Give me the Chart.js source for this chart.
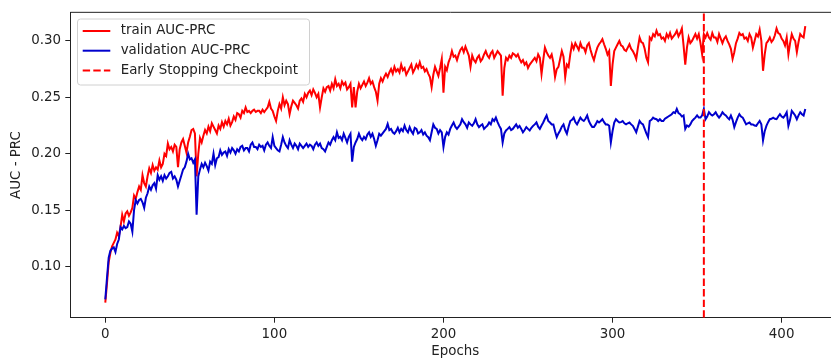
<!DOCTYPE html>
<html>
<head>
<meta charset="utf-8">
<script src="https://cdn.jsdelivr.net/npm/chart.js@4/dist/chart.umd.min.js"></script>
<style>
  html, body { margin: 0; padding: 0; background: #fff; overflow: hidden; }
  canvas { display: block; }
</style>
</head>
<body>
<canvas id="chart" width="831" height="358"></canvas>
<script>
// AUC-PRC per epoch
const trainAUC = [
  0.068, 0.085, 0.104, 0.112, 0.118, 0.121, 0.124, 0.130, 0.127, 0.135,
  0.146, 0.140, 0.147, 0.149, 0.145, 0.148, 0.152, 0.163, 0.160, 0.166,
  0.171, 0.168, 0.181, 0.174, 0.171, 0.180, 0.187, 0.183, 0.190, 0.185,
  0.188, 0.186, 0.194, 0.188, 0.191, 0.200, 0.198, 0.209, 0.204, 0.206,
  0.202, 0.208, 0.206, 0.188, 0.204, 0.210, 0.213, 0.207, 0.201, 0.210,
  0.215, 0.221, 0.222, 0.218, 0.180, 0.200, 0.214, 0.210, 0.216, 0.221,
  0.218, 0.224, 0.220, 0.227, 0.224, 0.221, 0.218, 0.225, 0.222, 0.228,
  0.224, 0.229, 0.226, 0.231, 0.225, 0.228, 0.233, 0.230, 0.236, 0.235,
  0.232, 0.238, 0.236, 0.241, 0.237, 0.238, 0.236, 0.238, 0.239, 0.237,
  0.238, 0.238, 0.236, 0.239, 0.237, 0.239, 0.241, 0.246, 0.240, 0.238,
  0.233, 0.229, 0.238, 0.244, 0.240, 0.250, 0.243, 0.247, 0.244, 0.235,
  0.242, 0.247, 0.245, 0.243, 0.240, 0.247, 0.249, 0.246, 0.253, 0.250,
  0.254, 0.256, 0.252, 0.257, 0.254, 0.250, 0.253, 0.241, 0.250, 0.258,
  0.255, 0.259, 0.260, 0.256, 0.262, 0.258, 0.266, 0.260, 0.262, 0.258,
  0.264, 0.261, 0.263, 0.257, 0.259, 0.262, 0.241, 0.259, 0.241, 0.255,
  0.262, 0.258, 0.261, 0.264, 0.260, 0.263, 0.267, 0.262, 0.264, 0.259,
  0.255, 0.247, 0.262, 0.267, 0.264, 0.268, 0.271, 0.268, 0.272, 0.275,
  0.271, 0.277, 0.273, 0.275, 0.272, 0.279, 0.274, 0.276, 0.270, 0.273,
  0.276, 0.279, 0.272, 0.275, 0.279, 0.276, 0.281, 0.276, 0.277, 0.273,
  0.275, 0.271, 0.268, 0.259, 0.270, 0.277, 0.273, 0.269, 0.276, 0.284,
  0.254, 0.277, 0.274, 0.281, 0.285, 0.291, 0.286, 0.287, 0.283, 0.288,
  0.292, 0.294, 0.290, 0.295, 0.291, 0.287, 0.277, 0.287, 0.283, 0.281,
  0.285, 0.287, 0.282, 0.284, 0.288, 0.291, 0.287, 0.285, 0.289, 0.291,
  0.285, 0.288, 0.291, 0.289, 0.287, 0.2515, 0.276, 0.285, 0.283, 0.287,
  0.285, 0.289, 0.288, 0.286, 0.288, 0.284, 0.281, 0.283, 0.279, 0.281,
  0.276, 0.279, 0.281, 0.283, 0.285, 0.282, 0.288, 0.285, 0.2706, 0.283,
  0.294, 0.290, 0.287, 0.285, 0.288, 0.281, 0.268, 0.275, 0.277, 0.284,
  0.291, 0.286, 0.268, 0.279, 0.277, 0.288, 0.297, 0.293, 0.298, 0.295,
  0.292, 0.298, 0.294, 0.294, 0.290, 0.296, 0.298, 0.292, 0.287, 0.283,
  0.289, 0.294, 0.297, 0.299, 0.3015, 0.297, 0.293, 0.288, 0.291, 0.260,
  0.279, 0.291, 0.294, 0.297, 0.300, 0.296, 0.295, 0.292, 0.291, 0.294,
  0.297, 0.293, 0.291, 0.288, 0.284, 0.294, 0.303, 0.299, 0.298, 0.293,
  0.285, 0.281, 0.303, 0.301, 0.306, 0.304, 0.309, 0.305, 0.306, 0.302,
  0.303, 0.300, 0.306, 0.303, 0.307, 0.302, 0.304, 0.306, 0.309, 0.304,
  0.307, 0.311, 0.296, 0.279, 0.294, 0.303, 0.298, 0.300, 0.303, 0.306,
  0.302, 0.306, 0.298, 0.288, 0.306, 0.303, 0.307, 0.303, 0.301, 0.307,
  0.303, 0.303, 0.299, 0.306, 0.302, 0.298, 0.302, 0.304, 0.300, 0.297,
  0.293, 0.284, 0.290, 0.298, 0.302, 0.307, 0.305, 0.306, 0.302, 0.303,
  0.300, 0.306, 0.303, 0.294, 0.300, 0.306, 0.304, 0.310, 0.300, 0.2735,
  0.288, 0.298, 0.300, 0.303, 0.299, 0.301, 0.305, 0.311, 0.307, 0.306,
  0.302, 0.300, 0.296, 0.303, 0.288, 0.298, 0.306, 0.302, 0.300, 0.290,
  0.299, 0.306, 0.304, 0.303, 0.313
];

const valAUC = [
  0.071, 0.090, 0.108, 0.114, 0.116, 0.117, 0.113, 0.120, 0.124, 0.135,
  0.133, 0.136, 0.134, 0.135, 0.140, 0.138, 0.131, 0.150, 0.159, 0.156,
  0.159, 0.160, 0.157, 0.152, 0.161, 0.165, 0.171, 0.168, 0.172, 0.174,
  0.169, 0.181, 0.177, 0.180, 0.176, 0.181, 0.178, 0.180, 0.183, 0.184,
  0.178, 0.180, 0.177, 0.171, 0.176, 0.181, 0.186, 0.188, 0.193, 0.200,
  0.195, 0.196, 0.192, 0.195, 0.146, 0.180, 0.186, 0.191, 0.188, 0.192,
  0.189, 0.185, 0.193, 0.191, 0.200, 0.190, 0.196, 0.197, 0.203, 0.199,
  0.201, 0.202, 0.198, 0.204, 0.201, 0.205, 0.203, 0.200, 0.204, 0.202,
  0.206, 0.207, 0.203, 0.205, 0.205, 0.202, 0.208, 0.210, 0.206, 0.206,
  0.204, 0.208, 0.206, 0.207, 0.203, 0.208, 0.210, 0.207, 0.205, 0.2147,
  0.207, 0.205, 0.203, 0.202, 0.208, 0.2147, 0.210, 0.207, 0.205, 0.212,
  0.208, 0.205, 0.209, 0.207, 0.204, 0.209, 0.207, 0.205, 0.207, 0.209,
  0.206, 0.208, 0.207, 0.204, 0.208, 0.210, 0.207, 0.209, 0.205, 0.204,
  0.202, 0.206, 0.210, 0.208, 0.212, 0.2147, 0.212, 0.219, 0.214, 0.215,
  0.212, 0.2177, 0.214, 0.210, 0.215, 0.2177, 0.193, 0.206, 0.210, 0.213,
  0.2177, 0.214, 0.212, 0.215, 0.213, 0.217, 0.219, 0.215, 0.2177, 0.213,
  0.207, 0.212, 0.2177, 0.216, 0.218, 0.220, 0.222, 0.2265, 0.221, 0.222,
  0.219, 0.2177, 0.220, 0.223, 0.219, 0.222, 0.220, 0.225, 0.221, 0.219,
  0.2236, 0.220, 0.2177, 0.223, 0.222, 0.218, 0.219, 0.221, 0.217, 0.219,
  0.216, 0.2147, 0.212, 0.219, 0.226, 0.223, 0.222, 0.218, 0.221, 0.219,
  0.206, 0.215, 0.219, 0.217, 0.222, 0.225, 0.2277, 0.224, 0.222, 0.224,
  0.226, 0.2306, 0.228, 0.226, 0.223, 0.2277, 0.226, 0.2247, 0.227, 0.2306,
  0.226, 0.2236, 0.225, 0.226, 0.222, 0.2236, 0.225, 0.2277, 0.226, 0.2306,
  0.229, 0.232, 0.228, 0.2247, 0.222, 0.210, 0.218, 0.2206, 0.222, 0.2236,
  0.221, 0.222, 0.224, 0.226, 0.223, 0.2247, 0.222, 0.219, 0.221, 0.2236,
  0.222, 0.2206, 0.223, 0.2247, 0.226, 0.2277, 0.224, 0.222, 0.225, 0.2277,
  0.231, 0.2339, 0.229, 0.2277, 0.226, 0.226, 0.220, 0.2147, 0.218, 0.2206,
  0.224, 0.226, 0.221, 0.2177, 0.224, 0.229, 0.230, 0.232, 0.228, 0.226,
  0.229, 0.232, 0.230, 0.229, 0.231, 0.2339, 0.229, 0.226, 0.2236, 0.2236,
  0.226, 0.229, 0.2277, 0.229, 0.2306, 0.228, 0.226, 0.226, 0.2247, 0.210,
  0.220, 0.2277, 0.2306, 0.229, 0.2277, 0.228, 0.229, 0.227, 0.226, 0.227,
  0.2277, 0.226, 0.2247, 0.222, 0.219, 0.224, 0.229, 0.227, 0.226, 0.222,
  0.218, 0.2147, 0.229, 0.230, 0.232, 0.231, 0.2306, 0.229, 0.2306, 0.229,
  0.229, 0.231, 0.232, 0.233, 0.2339, 0.235, 0.2368, 0.236, 0.2397, 0.236,
  0.235, 0.233, 0.2339, 0.222, 0.225, 0.224, 0.226, 0.229, 0.2306, 0.232,
  0.2339, 0.232, 0.232, 0.234, 0.2397, 0.2306, 0.233, 0.2368, 0.235, 0.2339,
  0.235, 0.2368, 0.234, 0.232, 0.234, 0.2368, 0.235, 0.2339, 0.232, 0.2306,
  0.2339, 0.230, 0.2236, 0.228, 0.232, 0.235, 0.233, 0.232, 0.229, 0.226,
  0.227, 0.2277, 0.226, 0.226, 0.225, 0.2247, 0.227, 0.229, 0.226, 0.2118,
  0.220, 0.2247, 0.228, 0.2306, 0.231, 0.232, 0.231, 0.2306, 0.233, 0.235,
  0.233, 0.232, 0.234, 0.2368, 0.2247, 0.230, 0.238, 0.236, 0.2339, 0.2306,
  0.234, 0.2368, 0.235, 0.2339, 0.2397
];

const checkpointEpoch = 354;
const xTicks = [0, 100, 200, 300, 400];
const yTicks = [0.10, 0.15, 0.20, 0.25, 0.30];

// matplotlib limits were about -20.7..434.7; the picture is cut at the right,
// so the visible x range stops near 429
const xMin = -20.7, xMaxFull = 434.7, xMaxVisible = 429.2;
const yMin = 0.0547, yMax = 0.3253;

const FONT = { family: "'DejaVu Sans', sans-serif", size: 13.4 };
const INK = "#222";

const toPoints = arr => arr.map((v, i) => ({ x: i, y: v }));

// legend drawn like matplotlib's upper-left box
const mplLegend = {
  id: "mplLegend",
  afterDraw(chart) {
    const ctx = chart.ctx;
    const x = 77.5, y = 19, w = 232, h = 66, r = 3;
    ctx.save();
    ctx.beginPath();
    ctx.moveTo(x + r, y);
    ctx.arcTo(x + w, y, x + w, y + h, r);
    ctx.arcTo(x + w, y + h, x, y + h, r);
    ctx.arcTo(x, y + h, x, y, r);
    ctx.arcTo(x, y, x + w, y, r);
    ctx.closePath();
    ctx.fillStyle = "rgba(255,255,255,0.8)";
    ctx.fill();
    ctx.strokeStyle = "#d0d0d0";
    ctx.lineWidth = 1;
    ctx.stroke();

    const rows = [31, 50.7, 70.4];
    chart.data.datasets.forEach((ds, i) => {
      ctx.beginPath();
      ctx.setLineDash(ds.borderDash || []);
      ctx.strokeStyle = ds.borderColor;
      ctx.lineWidth = ds.borderWidth;
      ctx.moveTo(82.7, rows[i]);
      ctx.lineTo(110.3, rows[i]);
      ctx.stroke();
      ctx.setLineDash([]);
      ctx.fillStyle = INK;
      ctx.font = FONT.size + "px " + FONT.family;
      ctx.textBaseline = "middle";
      ctx.textAlign = "left";
      ctx.fillText(ds.label, 120.7, rows[i]);
    });
    ctx.restore();
  }
};

// top spine and the x label centred on the full (uncropped) axis
const frame = {
  id: "frame",
  afterDraw(chart) {
    const { ctx, chartArea: a } = chart;
    const xs = chart.scales.x;
    ctx.save();
    ctx.strokeStyle = INK;
    ctx.lineWidth = 1;
    ctx.beginPath();
    ctx.moveTo(a.left, a.top);
    ctx.lineTo(a.right, a.top);
    ctx.stroke();
    ctx.fillStyle = INK;
    ctx.font = FONT.size + "px " + FONT.family;
    ctx.textAlign = "center";
    ctx.textBaseline = "middle";
    ctx.fillText("Epochs", xs.getPixelForValue((xMin + xMaxFull) / 2), 351.8);
    ctx.restore();
  }
};

new Chart(document.getElementById("chart").getContext("2d"), {
  type: "line",
  data: {
    datasets: [
      {
        label: "train AUC-PRC",
        data: toPoints(trainAUC),
        borderColor: "#ff0000",
        borderWidth: 2,
        order: 3
      },
      {
        label: "validation AUC-PRC",
        data: toPoints(valAUC),
        borderColor: "#0000cd",
        borderWidth: 2,
        order: 2
      },
      {
        label: "Early Stopping Checkpoint",
        data: [{ x: checkpointEpoch, y: yMin }, { x: checkpointEpoch, y: yMax }],
        borderColor: "#ff0000",
        borderWidth: 2,
        borderDash: [7.4, 3.2],
        order: 1
      }
    ]
  },
  options: {
    responsive: false,
    animation: false,
    events: [],
    elements: { point: { radius: 0 }, line: { tension: 0, fill: false } },
    layout: { padding: { left: 0, top: 12.3, right: 0, bottom: 0 } },
    plugins: { legend: { display: false }, tooltip: { enabled: false } },
    scales: {
      x: {
        type: "linear",
        min: xMin,
        max: xMaxVisible,
        afterBuildTicks: s => { s.ticks = xTicks.map(v => ({ value: v })); },
        afterFit: s => { s.height = 40.3; },
        ticks: { font: FONT, color: INK, padding: 4, maxRotation: 0, autoSkip: false,
                 callback: v => String(v) },
        grid: { drawOnChartArea: false, drawTicks: true, tickLength: 5, tickColor: INK, tickWidth: 1 },
        border: { display: true, color: INK, width: 1 }
      },
      y: {
        type: "linear",
        min: yMin,
        max: yMax,
        afterBuildTicks: s => { s.ticks = yTicks.map(v => ({ value: v })); },
        afterFit: s => { s.width = 70.3; },
        ticks: { font: FONT, color: INK, padding: 4.3, autoSkip: false,
                 callback: v => v.toFixed(2) },
        grid: { drawOnChartArea: false, drawTicks: true, tickLength: 5, tickColor: INK, tickWidth: 1 },
        border: { display: true, color: INK, width: 1 },
        title: { display: true, text: "AUC - PRC", font: FONT, color: INK, padding: { top: 8, bottom: 0 } }
      }
    }
  },
  plugins: [frame, mplLegend]
});
</script>
</body>
</html>
